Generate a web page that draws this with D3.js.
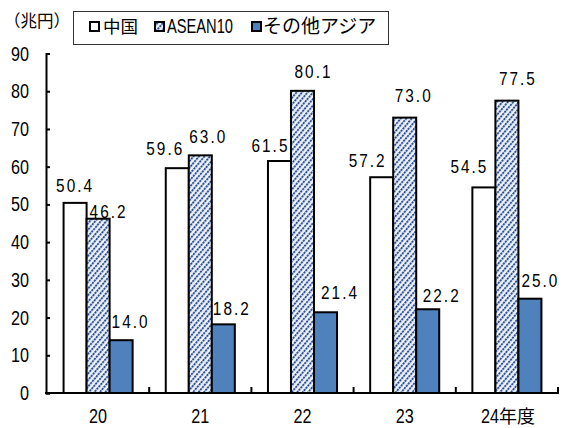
<!DOCTYPE html>
<html><head><meta charset="utf-8">
<script src="https://cdn.jsdelivr.net/npm/d3@7"></script>
<style>
body{margin:0;background:#fff;}
svg{display:block;}
.num{font-family:"Liberation Sans",Arial,sans-serif;}
.cjk{font-family:"Noto Sans CJK JP",sans-serif;}
</style></head>
<body>
<svg id="c" width="571" height="428"></svg>
<script>
const categories = ["20","21","22","23","24年度"];
const seriesNames = ["中国","ASEAN10","その他アジア"];
const china = [50.4,59.6,61.5,57.2,54.5];
const asean = [46.2,63.0,80.1,73.0,77.5];
const otherAsia = [14.0,18.2,21.4,22.2,25.0];
const yTicks = [0,10,20,30,40,50,60,70,80,90];
const unitLabel = "（兆円）";

// layout-only nudges for the value labels (relative to bar centre / bar top)
const labelDx = [[-1,-13,-10,-15,-15.5],[9.5,7,10,8,10],[8.5,7.5,13.5,13,9.5]];
const labelDy = [[-11,-13,-9,-10.5,-14],[-1,-12.5,-12.7,-15.7,-15.5],[-12,-9.5,-13,-7.6,-12]];

const SX = 0.83; // horizontal condensing of the numeral font

const svg = d3.select("#c");
const defs = svg.append("defs");
const pat = defs.append("pattern").attr("id","hatch").attr("patternUnits","userSpaceOnUse")
  .attr("width",4.2).attr("height",9).attr("patternTransform","rotate(40)");
pat.append("rect").attr("width",4.2).attr("height",9).attr("fill","#eef2fa");
pat.append("line").attr("x1",1).attr("x2",1).attr("y1",0).attr("y2",9)
  .attr("stroke","#24498c").attr("stroke-width",1.8).attr("stroke-dasharray","2.2,0.8");

const fills = ["#ffffff","url(#hatch)","#4f81bd"];
const series = [china, asean, otherAsia];

const x0 = d3.scaleBand().domain(categories).range([47,558]).paddingInner(0).paddingOuter(0);
const x1 = d3.scaleBand().domain(d3.range(3)).range([0,x0.bandwidth()]).paddingInner(0).paddingOuter(0.72);
const y = d3.scaleLinear().domain([0,90]).range([393,53.5]);

function numText(g, x, y0, size, txt, anchor){
  return g.append("text").attr("class","num")
    .attr("transform",`translate(${x},${y0}) scale(${SX},1)`)
    .attr("text-anchor",anchor||"start").attr("font-size",size).attr("fill","#000").text(txt);
}

// bars
categories.forEach((c,i)=>{
  series.forEach((s,k)=>{
    svg.append("rect")
      .attr("x", x0(c)+x1(k)).attr("y", y(s[i]))
      .attr("width", x1.bandwidth()).attr("height", y(0)-y(s[i]))
      .attr("fill", fills[k]).attr("stroke","#000").attr("stroke-width",2);
  });
});

// y axis
const yAxis = d3.axisRight(y).tickValues(yTicks).tickSize(4).tickFormat("");
const gy = svg.append("g").attr("transform","translate(46,0)").call(yAxis);
gy.select(".domain").attr("stroke","#000").attr("stroke-width",2);
gy.selectAll(".tick line").attr("stroke","#000").attr("stroke-width",2);
const gyl = svg.append("g");
yTicks.forEach(d=>numText(gyl, 29, y(d)+7, 19.5, d, "end"));

// x axis
const bounds = categories.map((c,i)=>x0(c)+x0.bandwidth());
svg.append("line").attr("x1",45).attr("x2",559).attr("y1",y(0)).attr("y2",y(0))
  .attr("stroke","#000").attr("stroke-width",2);
svg.append("g").selectAll("line").data(bounds).join("line")
  .attr("x1",d=>d).attr("x2",d=>d).attr("y1",y(0)).attr("y2",y(0)-6)
  .attr("stroke","#000").attr("stroke-width",2);
const gx = svg.append("g");
categories.forEach((c,i)=>{
  const cx = x0(c)+x0.bandwidth()/2;
  const m = c.match(/^(\d+)(.*)$/);
  if(!m[2]){ numText(gx, cx, 423, 19.5, m[1], "middle"); }
  else {
    numText(gx, cx-26, 423, 19.5, m[1], "start");
    gx.append("text").attr("class","cjk").attr("x",cx-8).attr("y",423).attr("font-size",18)
      .attr("fill","#000").text(m[2]);
  }
});

// value labels
const gv = svg.append("g");
series.forEach((s,k)=>{
  categories.forEach((c,i)=>{
    const cx = x0(c)+x1(k)+x1.bandwidth()/2 + labelDx[k][i];
    numText(gv, cx-18, y(s[i])+labelDy[k][i], 18.5, s[i].toFixed(1))
      .attr("textLength",36/SX).attr("lengthAdjust","spacing");
  });
});

// unit label
svg.append("text").attr("class","cjk").attr("x",4).attr("y",27).attr("font-size",16.5)
  .attr("fill","#000").text(unitLabel);

// legend
svg.append("rect").attr("x",73.5).attr("y",11.5).attr("width",315).attr("height",33)
  .attr("fill","#fff").attr("stroke","#333").attr("stroke-width",1);
const legX = [89,154,251];
const legTextX = [103,167,263];
seriesNames.forEach((n,k)=>{
  svg.append("rect").attr("x",legX[k]+1).attr("y",22).attr("width",9).attr("height",9)
    .attr("fill",fills[k]).attr("stroke","#000").attr("stroke-width",2);
  if(k===1){
    svg.append("text").attr("class","num").attr("x",legTextX[k]).attr("y",32.5)
      .attr("font-size",19.5).attr("fill","#000").attr("textLength",66)
      .attr("lengthAdjust","spacingAndGlyphs").text(n);
  } else {
    svg.append("text").attr("class","cjk").attr("x",legTextX[k]).attr("y",33)
      .attr("font-size",k===0?17.5:19).attr("fill","#000").text(n);
  }
});
</script>
</body></html>
